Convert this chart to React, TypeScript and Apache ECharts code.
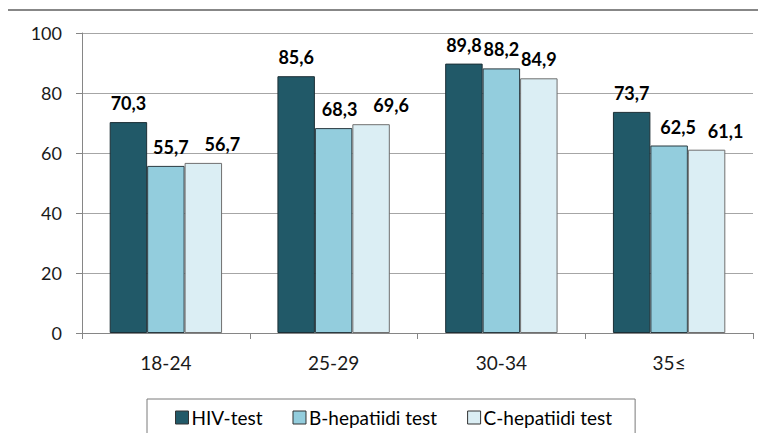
import React, { useEffect, useRef } from "react";
import * as echarts from "echarts";

const categories = ["18-24", "25-29", "30-34", "35≤"];
const hivTest = [70.3, 85.6, 89.8, 73.7];
const hepB = [55.7, 68.3, 88.2, 62.5];
const hepC = [56.7, 69.6, 84.9, 61.1];
const seriesNames = ["HIV-test", "B-hepatiidi test", "C-hepatiidi test"];
const yTicks = { min: 0, max: 100, interval: 20 };
// horizontal nudges of the value labels (px), as in the original layout
const labelShiftHiv = [0, 0, 0, 0];
const labelShiftB = [5, 6, 0, 9];
const labelShiftC = [19, 20, 0, 19];

const FONT = "Lato, 'DejaVu Sans', sans-serif";

export default function App() {
  const ref = useRef<HTMLDivElement>(null);
  useEffect(() => {
    if (!ref.current) return;
    const chart = echarts.init(ref.current, undefined, { renderer: "svg" });
    const fmt = (p: any) => Number(p.value).toFixed(1).replace(".", ",");
    const label = {
      show: true,
      position: "top" as const,
      distance: 10,
      formatter: fmt,
      fontFamily: FONT,
      fontWeight: "bold" as const,
      fontSize: 18,
      color: "#000",
    };
    const mk = (name: string, data: number[], shifts: number[], color: string, border: string) => ({
      name,
      type: "bar" as const,
      data: data.map((v, i) => ({ value: v, label: { offset: [shifts[i], 0] } })),
      barGap: "0%",
      barCategoryGap: "33%",
      itemStyle: { color, borderColor: border, borderWidth: 1 },
      label,
    });
    chart.setOption({
      animation: false,
      textStyle: { fontFamily: FONT },
      graphic: [
        {
          type: "rect",
          shape: { x: 7, y: 10, width: 800, height: 500 },
          style: { fill: "none", stroke: "#878787", lineWidth: 2 },
          silent: true,
        },
      ],
      grid: { left: 82, right: 13, top: 33, bottom: 108, containLabel: false },
      legend: {
        left: 147,
        top: 399,
        padding: [9, 23, 9, 28],
        itemGap: 30,
        itemWidth: 13,
        itemHeight: 13,
        icon: "rect",
        borderColor: "#7a7a7a",
        borderWidth: 1,
        textStyle: { fontFamily: FONT, fontSize: 19, color: "#000", padding: [0, 0, 0, -2] },
        data: seriesNames.map((n) => ({ name: n, itemStyle: { borderColor: "#333", borderWidth: 1 } })),
      },
      xAxis: {
        type: "category",
        data: categories,
        axisLine: { lineStyle: { color: "#868686" } },
        axisTick: { show: true, length: 6, lineStyle: { color: "#868686" } },
        axisLabel: { margin: 20, fontSize: 19, fontFamily: FONT, color: "#1a1a1a" },
      },
      yAxis: {
        type: "value",
        min: yTicks.min,
        max: yTicks.max,
        interval: yTicks.interval,
        axisLine: { show: true, lineStyle: { color: "#868686" } },
        axisTick: { show: true, length: 6, lineStyle: { color: "#868686" } },
        axisLabel: { margin: 20, fontSize: 18, fontFamily: FONT, color: "#1a1a1a" },
        splitLine: { lineStyle: { color: "#a6a6a6" } },
      },
      series: [
        mk(seriesNames[0], hivTest, labelShiftHiv, "#215968", "#1c2f36"),
        mk(seriesNames[1], hepB, labelShiftB, "#93CDDD", "#2a3a40"),
        mk(seriesNames[2], hepC, labelShiftC, "#DBEEF4", "#6f6f6f"),
      ],
    });
    return () => chart.dispose();
  }, []);
  return <div ref={ref} style={{ width: 766, height: 441, margin: -8, background: "#fff" }} />;
}
